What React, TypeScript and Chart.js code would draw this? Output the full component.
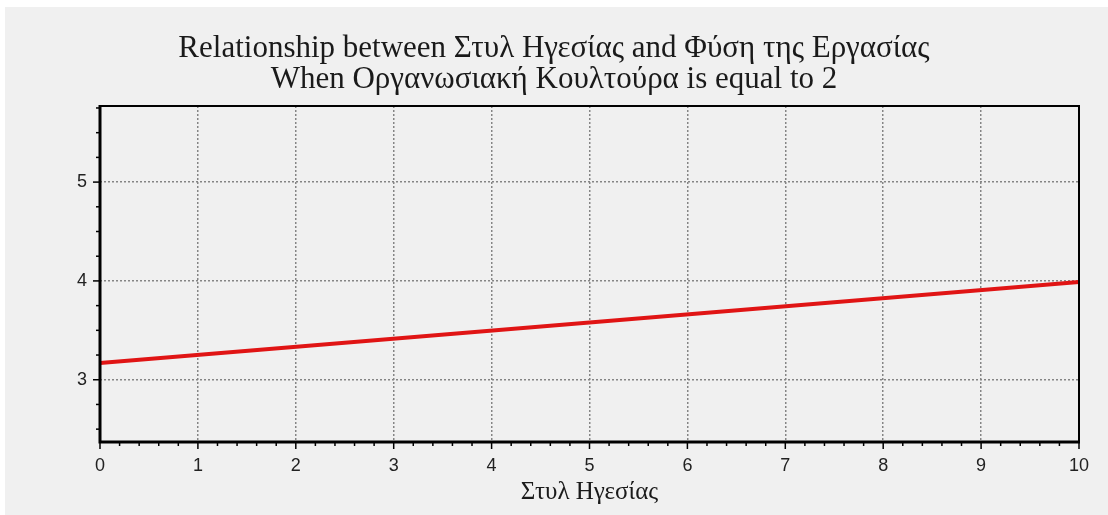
import React, { useEffect, useRef } from "react";
import { Chart, registerables } from "chart.js";

Chart.register(...registerables);

const titleLines = [
  "Relationship between Στυλ Ηγεσίας and Φύση της Εργασίας",
  "When Οργανωσιακή Κουλτούρα is equal to 2",
];
const xAxisTitle = "Στυλ Ηγεσίας";
const xValues = [0, 10];
const yValues = [3.17, 3.99];
const xTicks = [0, 1, 2, 3, 4, 5, 6, 7, 8, 9, 10];
const yTicks = [3, 4, 5];
const xRange = [0, 10];
const yRange = [2.37, 5.77];
const xMinorStep = 0.2;
const yMinorStep = 0.25;

const SERIF = "'Liberation Serif', 'Times New Roman', serif";
const SANS = "'Liberation Sans', Arial, sans-serif";

const framePlugin = {
  id: "frameAndTicks",
  afterDatasetsDraw(chart: any) {
    const { ctx, chartArea, scales } = chart;
    const { left, right, top, bottom } = chartArea;
    const xs = scales.x;
    const ys = scales.y;
    ctx.save();
    ctx.strokeStyle = "#000";
    ctx.lineCap = "butt";
    ctx.lineWidth = 1.5;
    const nx = Math.round((xRange[1] - xRange[0]) / xMinorStep);
    for (let i = 0; i <= nx; i++) {
      const v = xRange[0] + i * xMinorStep;
      const major = xTicks.some((t) => Math.abs(t - v) < 1e-6);
      const px = xs.getPixelForValue(v);
      ctx.beginPath();
      ctx.moveTo(px, bottom);
      ctx.lineTo(px, bottom + (major ? 7 : 4));
      ctx.stroke();
    }
    const startY = Math.ceil(yRange[0] / yMinorStep);
    const endY = Math.floor(yRange[1] / yMinorStep);
    for (let i = startY; i <= endY; i++) {
      const v = i * yMinorStep;
      const major = yTicks.some((t) => Math.abs(t - v) < 1e-6);
      const py = ys.getPixelForValue(v);
      ctx.beginPath();
      ctx.moveTo(left, py);
      ctx.lineTo(left - (major ? 7 : 4), py);
      ctx.stroke();
    }
    ctx.lineWidth = 2;
    ctx.beginPath();
    ctx.moveTo(left, top);
    ctx.lineTo(right, top);
    ctx.lineTo(right, bottom);
    ctx.stroke();
    ctx.lineWidth = 3;
    ctx.beginPath();
    ctx.moveTo(left, top - 1);
    ctx.lineTo(left, bottom);
    ctx.lineTo(right + 1, bottom);
    ctx.stroke();
    ctx.restore();
  },
};

export default function App() {
  const canvasRef = useRef<HTMLCanvasElement | null>(null);

  useEffect(() => {
    document.body.style.margin = "0";
    const canvas = canvasRef.current;
    if (!canvas) return;
    const data = xValues.map((x, i) => ({ x, y: yValues[i] }));
    const chart = new Chart(canvas, {
      type: "line",
      data: {
        datasets: [
          {
            data,
            borderColor: "#e01414",
            borderWidth: 4,
            pointRadius: 0,
            fill: false,
            tension: 0,
          },
        ],
      },
      options: {
        responsive: false,
        animation: false,
        layout: { padding: { left: 29, right: 29, top: 0, bottom: 6 } },
        plugins: {
          legend: { display: false },
          tooltip: { enabled: false },
          title: {
            display: true,
            text: titleLines,
            color: "#1a1a1a",
            font: { family: SERIF, size: 31, weight: "normal", lineHeight: 1 },
            padding: { top: 33, bottom: 11 },
          },
        },
        scales: {
          x: {
            type: "linear",
            min: xRange[0],
            max: xRange[1],
            afterBuildTicks: (axis: any) => {
              axis.ticks = xTicks.map((v) => ({ value: v }));
            },
            afterFit: (axis: any) => {
              axis.height = 67;
            },
            grid: { color: "#858585", lineWidth: 1.5, drawTicks: false },
            border: { display: false, dash: [2, 2] },
            ticks: {
              padding: 13,
              color: "#222",
              font: { family: SANS, size: 18 },
              maxRotation: 0,
              autoSkip: false,
            },
            title: {
              display: true,
              text: xAxisTitle,
              color: "#1a1a1a",
              font: { family: SERIF, size: 25, lineHeight: 1.2 },
              padding: { top: 0, bottom: 2 },
            },
          },
          y: {
            type: "linear",
            min: yRange[0],
            max: yRange[1],
            afterBuildTicks: (axis: any) => {
              axis.ticks = yTicks.map((v) => ({ value: v }));
            },
            afterFit: (axis: any) => {
              axis.width = 71;
            },
            grid: { color: "#858585", lineWidth: 1.5, drawTicks: false },
            border: { display: false, dash: [2, 2] },
            ticks: {
              padding: 13,
              color: "#222",
              font: { family: SANS, size: 18 },
            },
          },
        },
      },
      plugins: [framePlugin],
    } as any);
    return () => chart.destroy();
  }, []);

  return (
    <div style={{ position: "relative", width: 1108, height: 515, background: "#ffffff" }}>
      <div
        style={{
          position: "absolute",
          left: 5,
          top: 7,
          right: 0,
          bottom: 0,
          background: "#f0f0f0",
        }}
      />
      <canvas
        ref={canvasRef}
        width={1108}
        height={515}
        style={{ position: "absolute", left: 0, top: 0, width: 1108, height: 515 }}
      />
    </div>
  );
}
